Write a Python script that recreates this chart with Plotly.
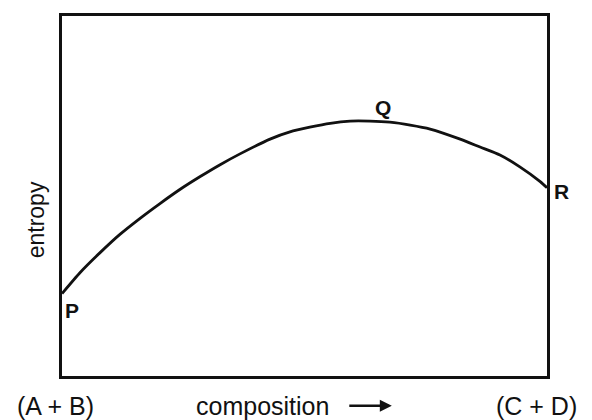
import plotly.graph_objects as go

# composition (0 = A+B, 10 = C+D) and entropy (arbitrary units)
composition = [0.0, 0.37, 0.78, 1.20, 1.61, 2.02, 2.43, 2.85, 3.26, 3.67, 4.29, 4.70,
               5.11, 5.53, 5.94, 6.35, 6.76, 7.18, 7.59, 8.21, 8.62, 9.03, 9.44, 9.86, 10.0]
entropy = [2.29, 2.87, 3.42, 3.94, 4.38, 4.79, 5.18, 5.54, 5.87, 6.17, 6.58, 6.78,
           6.91, 7.02, 7.08, 7.08, 7.05, 6.97, 6.86, 6.58, 6.36, 6.14, 5.81, 5.40, 5.23]

point_labels = ["P", "Q", "R"]
point_x = [0.0, 6.35, 10.0]
point_y = [2.29, 7.08, 5.23]
label_shift = [(10, -17), (13, 14), (14, -4)]

bottom_labels = ["(A + B)", "composition", "(C + D)"]
bottom_pos = [-0.0144, 0.413, 1.066]
bottom_anchor = ["center", "center", "right"]

FAM = "Liberation Sans, Arial, Helvetica, sans-serif"
INK = "#111111"

fig = go.Figure()
fig.add_trace(go.Scatter(x=composition, y=entropy, mode="lines",
                         line=dict(color=INK, width=2.8, shape="spline", smoothing=0.6),
                         hoverinfo="skip", showlegend=False))

for lab, x, y, (dx, dy) in zip(point_labels, point_x, point_y, label_shift):
    fig.add_annotation(x=x, y=y, text=f"<b>{lab}</b>", showarrow=False,
                       xshift=dx, yshift=dy, font=dict(family=FAM, size=21, color=INK))

for lab, px, anc in zip(bottom_labels, bottom_pos, bottom_anchor):
    fig.add_annotation(xref="paper", yref="paper", x=px, y=-0.0826, text=lab,
                       showarrow=False, xanchor=anc, yanchor="middle",
                       font=dict(family=FAM, size=25, color=INK))

# arrow after "composition"
fig.add_annotation(xref="paper", yref="paper", x=0.680, y=-0.0826, ax=-44, ay=0,
                   text="", showarrow=True, arrowhead=2, arrowsize=1.0,
                   arrowwidth=2.4, arrowcolor=INK)

# y label
fig.add_annotation(xref="paper", yref="paper", x=-0.0536, y=0.4325, text="entropy",
                   textangle=-90, showarrow=False, xanchor="center", yanchor="middle",
                   font=dict(family=FAM, size=23, color=INK))

fig.update_xaxes(range=[0, 10], showticklabels=False, ticks="", showgrid=False,
                 zeroline=False, showline=True, linecolor=INK, linewidth=2.8, mirror=True)
fig.update_yaxes(range=[0, 10], showticklabels=False, ticks="", showgrid=False,
                 zeroline=False, showline=True, linecolor=INK, linewidth=2.8, mirror=True)

fig.update_layout(width=584, height=412, plot_bgcolor="white", paper_bgcolor="white",
                  margin=dict(l=54, r=45, t=5, b=44), showlegend=False)

fig.write_html("out.html")
